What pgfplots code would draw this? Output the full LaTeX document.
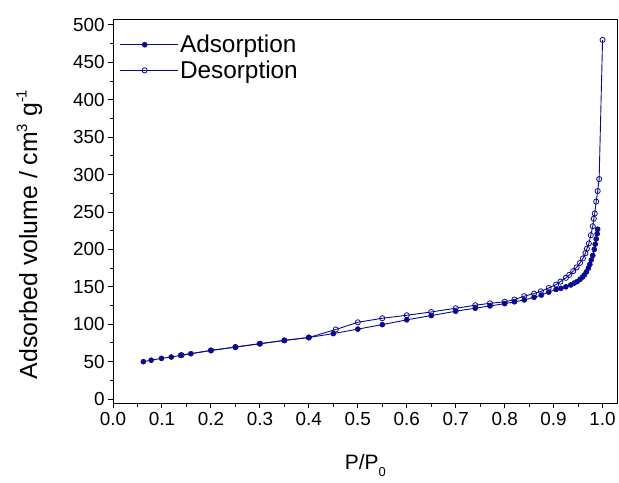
\documentclass[border=0pt]{standalone}
\usepackage{pgfplots}
\pgfplotsset{compat=1.18}
\usepackage{fontspec}
\setmainfont{Liberation Sans}
\definecolor{isonavy}{RGB}{10,10,140}

% N2 isotherm: relative pressure vs adsorbed volume
\pgfplotstableread{
p     v
0.062 50.0
0.078 52.0
0.099 54.4
0.119 56.2
0.138 58.4
0.159 60.6
0.200 65.0
0.250 69.5
0.300 74.0
0.350 78.4
0.400 82.3
0.450 87.5
0.500 93.5
0.550 99.5
0.600 105.9
0.650 111.6
0.700 117.4
0.740 121.4
0.770 124.5
0.800 127.5
0.820 130.0
0.840 132.5
0.860 136.0
0.875 139.0
0.890 143.0
0.905 146.5
0.915 148.0
0.925 150.0
0.935 152.5
0.942 155.0
0.948 157.0
0.954 160.0
0.959 163.0
0.963 166.0
0.967 170.0
0.971 175.0
0.974 180.0
0.977 186.0
0.980 192.0
0.983 200.0
0.985 207.0
0.987 214.0
0.989 221.0
0.990 227.0
}\adsorption

\pgfplotstableread{
p     v
1.000 480.0
0.993 294.0
0.990 278.0
0.987 264.0
0.984 248.0
0.982 241.0
0.980 231.0
0.976 219.0
0.972 208.0
0.968 201.0
0.965 195.0
0.960 188.0
0.954 182.0
0.947 176.0
0.940 171.0
0.932 166.0
0.925 162.0
0.914 157.0
0.905 153.0
0.890 148.5
0.874 144.0
0.860 141.0
0.840 137.5
0.820 133.0
0.800 130.0
0.770 128.0
0.740 125.4
0.700 121.4
0.650 116.4
0.600 112.0
0.550 108.0
0.500 102.6
0.455 93.0
0.400 82.3
0.350 78.4
0.300 74.0
0.250 69.5
0.200 65.0
0.140 58.8
}\desorption

\begin{document}
\begin{tikzpicture}[x=1bp,y=1bp]
% page frame
\path (-113.3,-80) rectangle (505.7,404);
\begin{axis}[
  at={(0,0)}, anchor=south west,
  width=505.7bp, height=384bp, scale only axis,
  xmin=0, xmax=1.0306, ymin=-5.3, ymax=506.7,
  axis line style={line width=1bp, black},
  xtick={0,0.1,...,1.0},
  ytick={0,50,...,500},
  minor x tick num=1, minor y tick num=1,
  xtick pos=bottom, ytick pos=left,
  tick align=outside,
  major tick length=5bp, minor tick length=3.5bp,
  every tick/.style={black, line width=1bp},
  /pgf/number format/assume math mode=true,
  xticklabel={\pgfmathprintnumber[fixed,fixed zerofill,precision=1]{\tick}},
  tick label style={font=\fontsize{19}{22}\selectfont},
  xticklabel style={yshift=-1bp},
  xlabel={P/P\raisebox{-0.6ex}{\fontsize{13}{15}\selectfont 0}},
  ylabel={Adsorbed volume / cm\raisebox{0.75ex}{\fontsize{15}{17}\selectfont 3} g\raisebox{0.8ex}{\fontsize{15}{17}\selectfont -1}},
  xlabel style={at={(axis description cs:0.5,-0.163)}, anchor=center,
    font=\fontsize{21}{24}\selectfont},
  ylabel style={at={(axis description cs:-0.166,0.44)}, anchor=center, rotate=0,
    font=\fontsize{25}{28}\selectfont},
  legend style={draw=none, fill=none, at={(0.012,0.966)}, anchor=north west,
    font=\fontsize{24.5}{26}\selectfont, row sep=2.5bp, inner sep=0bp,
    cells={anchor=west}},
  legend image code/.code={
    \path (0bp,0bp) -- (58bp,0bp);
    \draw[mark repeat=2, mark phase=2] plot coordinates {(0bp,0bp) (25bp,0bp) (50bp,0bp)};
  },
]
\addplot[isonavy, line width=0.9bp, mark=*, mark size=2.5bp,
  mark options={fill=isonavy, draw=isonavy, line width=0.6bp}]
  table[x=p, y=v] {\adsorption};
\addlegendentry{Adsorption}
\addplot[isonavy, line width=0.9bp, mark=o, mark size=2.6bp,
  mark options={fill=white, draw=isonavy, line width=0.8bp}]
  table[x=p, y=v] {\desorption};
\addlegendentry{Desorption}
\end{axis}
\end{tikzpicture}
\end{document}
